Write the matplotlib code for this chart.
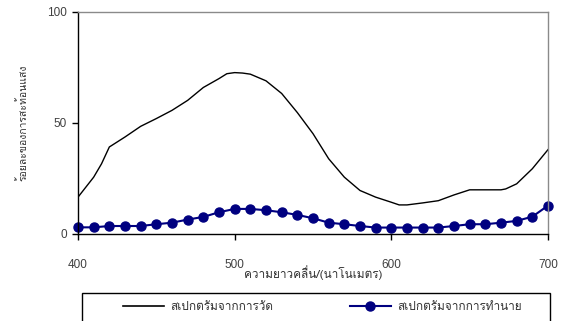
import matplotlib
matplotlib.use("Agg")
import matplotlib.pyplot as plt
from matplotlib import font_manager
from matplotlib.patches import Rectangle
from matplotlib.lines import Line2D

# ---- data ----
measured_wl = [400, 410, 415, 420, 430, 440, 450, 460, 470, 480, 490, 495, 500, 505,
               510, 520, 530, 540, 550, 560, 570, 580, 590, 600, 605, 610, 620, 630,
               640, 650, 660, 670, 673, 680, 690, 700]
measured = [16.6, 25.6, 31.6, 39.2, 43.7, 48.5, 52.0, 55.7, 60.2, 66.0, 70.0, 72.2, 72.7, 72.5,
            72.0, 69.0, 63.3, 54.7, 45.2, 33.9, 25.6, 19.6, 16.6, 14.3, 13.1, 13.1, 14.0, 15.0,
            17.6, 19.9, 19.9, 19.9, 20.3, 22.6, 29.4, 38.0]
pred_wl = list(range(400, 701, 10))
predicted = [3.0, 3.0, 3.6, 3.6, 3.6, 4.4, 5.1, 6.5, 7.7, 9.8, 11.3, 11.3, 10.7, 9.8, 8.6, 7.1,
             5.1, 4.4, 3.6, 2.9, 2.9, 2.9, 2.9, 2.9, 3.6, 4.4, 4.4, 5.1, 5.9, 7.8, 12.8]
x_ticks = [400, 500, 600, 700]
y_ticks = [0, 50, 100]
x_label = "ความยาวคลื่น/(นาโนเมตร)"
y_label = "ร้อยละของการสะท้อนแสง"
legend_labels = ["สเปกตรัมจากการวัด", "สเปกตรัมจากการทำนาย"]

# ---- find a font with Thai glyphs ----
thai_family = None
try:
    from matplotlib.ft2font import FT2Font
    cands = []
    for f in font_manager.fontManager.ttflist:
        try:
            cm = FT2Font(f.fname).get_charmap()
            if 0x0E01 in cm and 0x0E32 in cm:
                cands.append(f.name)
        except Exception:
            pass
    pref = [n for n in cands if "Sans" in n or "Loma" in n or "Tahoma" in n]
    thai_family = (pref or cands or [None])[0]
except Exception:
    thai_family = None
fam = [thai_family, "Liberation Sans", "DejaVu Sans"] if thai_family else ["Liberation Sans", "DejaVu Sans"]

plt.rcParams["font.family"] = ["Liberation Sans", "DejaVu Sans"]

fig = plt.figure(figsize=(5.68, 3.21), dpi=100)
ax = fig.add_axes([78/568, 1-234/321, 470/568, 222/321])

ax.plot(measured_wl, measured, color="black", lw=1.0)
ax.plot(pred_wl, predicted, color="#000080", lw=1.5, marker="o", ms=6.5,
        markerfacecolor="#000080", markeredgecolor="#000080", clip_on=False)

ax.set_xlim(400, 700)
ax.set_ylim(0, 100)
ax.set_xticks(x_ticks)
ax.set_yticks(y_ticks)
ax.tick_params(axis="x", direction="out", length=4, width=1, pad=14, labelsize=8.5, labelcolor="#404040")
ax.tick_params(axis="y", direction="out", length=4, width=1, pad=4, labelsize=8.5, labelcolor="#404040")
for s in ["left", "bottom"]:
    ax.spines[s].set_color("black")
    ax.spines[s].set_linewidth(1)
for s in ["top", "right"]:
    ax.spines[s].set_color("#8a8a8a")
    ax.spines[s].set_linewidth(1)

ax.set_xlabel(x_label, family=fam, fontsize=8.5, color="#303030", labelpad=-4)
ax.set_ylabel(y_label, family=fam, fontsize=7.5, color="#303030", labelpad=13)

# legend box
fig.patches.append(Rectangle((82/568, -0.05), 468/568, 0.05 + (321-293)/321,
                             transform=fig.transFigure, fill=False, edgecolor="black",
                             lw=1, zorder=5))
h1 = Line2D([], [], color="black", lw=1.2)
h2 = Line2D([], [], color="#000080", lw=1.5, marker="o", ms=6.5)
leg = fig.legend([h1, h2], legend_labels, loc="center left",
                 bbox_to_anchor=(112/568, 1-307/321), ncol=2, frameon=False,
                 handlelength=3.5, handletextpad=0.5, columnspacing=6.5,
                 prop={"family": fam, "size": 8.5})
for t in leg.get_texts():
    t.set_color("#303030")

fig.savefig("out.png", dpi=100)
